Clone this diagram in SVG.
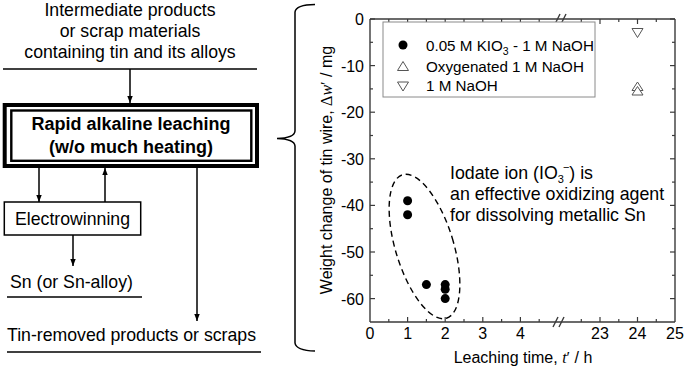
<svg xmlns="http://www.w3.org/2000/svg" width="685" height="371" viewBox="0 0 685 371">
<style>
  .t { font-family: "Liberation Sans", Arial, sans-serif; fill: #000; }
  .lt { font-size: 17.7px; }
  .b { font-size: 18px; font-weight: bold; }
  .ax { font-size: 16px; }
  .lg { font-size: 15.2px; }
  .an { font-size: 17.8px; }
  .ser { font-family: "Liberation Serif", "Times New Roman", serif; }
  .ln { stroke: #000; stroke-width: 1.5; fill: none; }
  .ar { stroke: #000; stroke-width: 1.5; fill: none; marker-end: url(#ah); }
  .fr { stroke: #3a3a3a; stroke-width: 1.4; fill: none; }
  .tk { stroke: #3a3a3a; stroke-width: 1.2; }
  .dot { fill: #000; }
  .tri { fill: #fff; stroke: #555; stroke-width: 1; }
</style>
<defs>
  <marker id="ah" markerWidth="7" markerHeight="9" refX="9" refY="3.5" orient="auto" markerUnits="userSpaceOnUse" viewBox="0 0 9 7">
    <path d="M0,0 L9,3.5 L0,7 Z" fill="#000"/>
  </marker>
</defs>

<!-- Left flow -->
<g id="input">
  <text class="t lt" x="130" y="16" text-anchor="middle">Intermediate products</text>
  <text class="t lt" x="130" y="37" text-anchor="middle">or scrap materials</text>
  <text class="t lt" x="130" y="58" text-anchor="middle">containing tin and its alloys</text>
  <line class="ln" x1="3" y1="69" x2="257" y2="69"/>
</g>
<g id="leaching">
  <rect x="4.7" y="105" width="252.3" height="61" fill="#fff" stroke="#000" stroke-width="4"/>
  <rect x="11.3" y="110.5" width="240" height="50.3" fill="none" stroke="#000" stroke-width="2.4"/>
  <text class="t b" x="131" y="130" text-anchor="middle">Rapid alkaline leaching</text>
  <text class="t b" x="131" y="153" text-anchor="middle">(w/o much heating)</text>
</g>
<g id="electrowinning">
  <rect x="4.3" y="202" width="136.4" height="33" fill="#fff" stroke="#000" stroke-width="1.5"/>
  <text class="t lt" x="72.5" y="225" text-anchor="middle">Electrowinning</text>
</g>
<g id="sn">
  <text class="t lt" x="10" y="288">Sn (or Sn-alloy)</text>
  <line class="ln" x1="7" y1="297" x2="142" y2="297"/>
</g>
<g id="removed">
  <text class="t lt" x="7" y="341">Tin-removed products or scraps</text>
  <line class="ln" x1="7" y1="352" x2="261" y2="352"/>
</g>

<g id="connectors">
  <line class="ar" x1="130" y1="69" x2="130" y2="103"/>
  <line class="ar" x1="39" y1="168" x2="39" y2="202"/>
  <line class="ar" x1="105" y1="202" x2="105" y2="168"/>
  <line class="ar" x1="197" y1="168" x2="197" y2="321"/>
  <line class="ar" x1="73" y1="235" x2="73" y2="266"/>
</g>

<!-- Brace -->
<g id="brace">
  <path class="ln" d="M315,4.5 Q296,4.8 295,12 L295,131 Q294.5,138 277,138.5 Q294.5,139 295,146 L295,343 Q296,350.5 315,351"/>
</g>

<!-- Plot -->
<g id="plot">
  <line class="fr" x1="370" y1="19" x2="675" y2="19"/>
  <line class="fr" x1="370" y1="322" x2="675" y2="322"/>
  <line class="fr" x1="370" y1="19" x2="370" y2="322"/>
  <line class="fr" x1="675" y1="19" x2="675" y2="322"/>
  <line class="fr" x1="555" y1="24" x2="560" y2="14"/>
  <line class="fr" x1="561" y1="24" x2="566" y2="14"/>
  <line class="fr" x1="553" y1="327" x2="558" y2="317"/>
  <line class="fr" x1="559" y1="327" x2="564" y2="317"/>
  <g class="tk">
    <line x1="370" y1="19" x2="375" y2="19"/><line x1="675" y1="19" x2="670" y2="19"/>
    <line x1="370" y1="42.3" x2="373" y2="42.3"/><line x1="675" y1="42.3" x2="672" y2="42.3"/>
    <line x1="370" y1="65.6" x2="375" y2="65.6"/><line x1="675" y1="65.6" x2="670" y2="65.6"/>
    <line x1="370" y1="88.9" x2="373" y2="88.9"/><line x1="675" y1="88.9" x2="672" y2="88.9"/>
    <line x1="370" y1="112.2" x2="375" y2="112.2"/><line x1="675" y1="112.2" x2="670" y2="112.2"/>
    <line x1="370" y1="135.5" x2="373" y2="135.5"/><line x1="675" y1="135.5" x2="672" y2="135.5"/>
    <line x1="370" y1="158.8" x2="375" y2="158.8"/><line x1="675" y1="158.8" x2="670" y2="158.8"/>
    <line x1="370" y1="182.1" x2="373" y2="182.1"/><line x1="675" y1="182.1" x2="672" y2="182.1"/>
    <line x1="370" y1="205.4" x2="375" y2="205.4"/><line x1="675" y1="205.4" x2="670" y2="205.4"/>
    <line x1="370" y1="228.7" x2="373" y2="228.7"/><line x1="675" y1="228.7" x2="672" y2="228.7"/>
    <line x1="370" y1="252" x2="375" y2="252"/><line x1="675" y1="252" x2="670" y2="252"/>
    <line x1="370" y1="275.3" x2="373" y2="275.3"/><line x1="675" y1="275.3" x2="672" y2="275.3"/>
    <line x1="370" y1="298.6" x2="375" y2="298.6"/><line x1="675" y1="298.6" x2="670" y2="298.6"/>
  </g>
  <g class="tk">
    <line x1="407.6" y1="322" x2="407.6" y2="317"/><line x1="407.6" y1="19" x2="407.6" y2="24"/>
    <line x1="445.2" y1="322" x2="445.2" y2="317"/><line x1="445.2" y1="19" x2="445.2" y2="24"/>
    <line x1="482.8" y1="322" x2="482.8" y2="317"/><line x1="482.8" y1="19" x2="482.8" y2="24"/>
    <line x1="520.4" y1="322" x2="520.4" y2="317"/><line x1="520.4" y1="19" x2="520.4" y2="24"/>
    <line x1="600" y1="322" x2="600" y2="317"/><line x1="600" y1="19" x2="600" y2="24"/>
    <line x1="637.5" y1="322" x2="637.5" y2="317"/><line x1="637.5" y1="19" x2="637.5" y2="24"/>
    <line x1="388.8" y1="322" x2="388.8" y2="319"/><line x1="388.8" y1="19" x2="388.8" y2="22"/>
    <line x1="426.4" y1="322" x2="426.4" y2="319"/><line x1="426.4" y1="19" x2="426.4" y2="22"/>
    <line x1="464" y1="322" x2="464" y2="319"/><line x1="464" y1="19" x2="464" y2="22"/>
    <line x1="501.6" y1="322" x2="501.6" y2="319"/><line x1="501.6" y1="19" x2="501.6" y2="22"/>
    <line x1="539.2" y1="322" x2="539.2" y2="319"/><line x1="539.2" y1="19" x2="539.2" y2="22"/>
    <line x1="581.3" y1="322" x2="581.3" y2="319"/><line x1="581.3" y1="19" x2="581.3" y2="22"/>
    <line x1="618.8" y1="322" x2="618.8" y2="319"/><line x1="618.8" y1="19" x2="618.8" y2="22"/>
    <line x1="656.3" y1="322" x2="656.3" y2="319"/><line x1="656.3" y1="19" x2="656.3" y2="22"/>
  </g>
  <g class="t ax" text-anchor="end">
    <text x="364" y="25">0</text>
    <text x="364" y="71.5">-10</text>
    <text x="364" y="118">-20</text>
    <text x="364" y="164.8">-30</text>
    <text x="364" y="211.4">-40</text>
    <text x="364" y="258">-50</text>
    <text x="364" y="304.6">-60</text>
  </g>
  <g class="t ax" text-anchor="middle">
    <text x="370" y="339">0</text>
    <text x="407.6" y="339">1</text>
    <text x="445.2" y="339">2</text>
    <text x="482.8" y="339">3</text>
    <text x="520.4" y="339">4</text>
    <text x="600" y="339">23</text>
    <text x="637.5" y="339">24</text>
    <text x="675" y="339">25</text>
  </g>
  <text class="t ax" x="523" y="363" text-anchor="middle">Leaching time, <tspan class="ser" font-style="italic">t</tspan><tspan class="ser">′</tspan> / h</text>
  <text class="t ax" transform="translate(332,170) rotate(-90)" text-anchor="middle">Weight change of tin wire, <tspan class="ser">Δ</tspan><tspan class="ser" font-style="italic">w</tspan><tspan class="ser">′</tspan> / mg</text>

  <g id="legend">
    <rect x="383" y="22" width="212" height="75" fill="#fff" stroke="#8a8a8a" stroke-width="1"/>
    <circle class="dot" cx="403" cy="45" r="4.5"/>
    <path class="tri" d="M403,61.5 L408.5,70.5 L397.5,70.5 Z"/>
    <path class="tri" d="M397.5,82 L408.5,82 L403,91 Z"/>
    <text class="t lg" x="426" y="50.5">0.05 M KIO<tspan font-size="10.5px" dy="4">3</tspan><tspan dy="-4"> - 1 M NaOH</tspan></text>
    <text class="t lg" x="426" y="71.5">Oxygenated 1 M NaOH</text>
    <text class="t lg" x="426" y="91">1 M NaOH</text>
  </g>

  <circle class="dot" cx="407.6" cy="200.7" r="4.5"/>
  <circle class="dot" cx="407.6" cy="214.7" r="4.5"/>
  <circle class="dot" cx="426.4" cy="284.6" r="4.5"/>
  <circle class="dot" cx="445.2" cy="284.6" r="4.5"/>
  <circle class="dot" cx="445.2" cy="289.3" r="4.5"/>
  <circle class="dot" cx="445.2" cy="298.6" r="4.5"/>
  <path class="tri" d="M632,28.5 L643,28.5 L637.5,37.5 Z"/>
  <path class="tri" d="M637.5,82 L643,90.5 L632,90.5 Z"/>
  <path class="tri" d="M637.5,86.5 L643,95 L632,95 Z"/>

  <ellipse cx="424.5" cy="246.5" rx="29" ry="75" transform="rotate(-17 424.5 246.5)" fill="none" stroke="#000" stroke-width="1.4" stroke-dasharray="6,4"/>

  <text class="t an" x="450" y="179">Iodate ion (IO<tspan font-size="11px" dy="4">3</tspan><tspan font-size="11px" dx="-1" dy="-12">−</tspan><tspan dy="8">) is</tspan></text>
  <text class="t an" x="450" y="200">an effective oxidizing agent</text>
  <text class="t an" x="450" y="221">for dissolving metallic Sn</text>
</g>
</svg>
